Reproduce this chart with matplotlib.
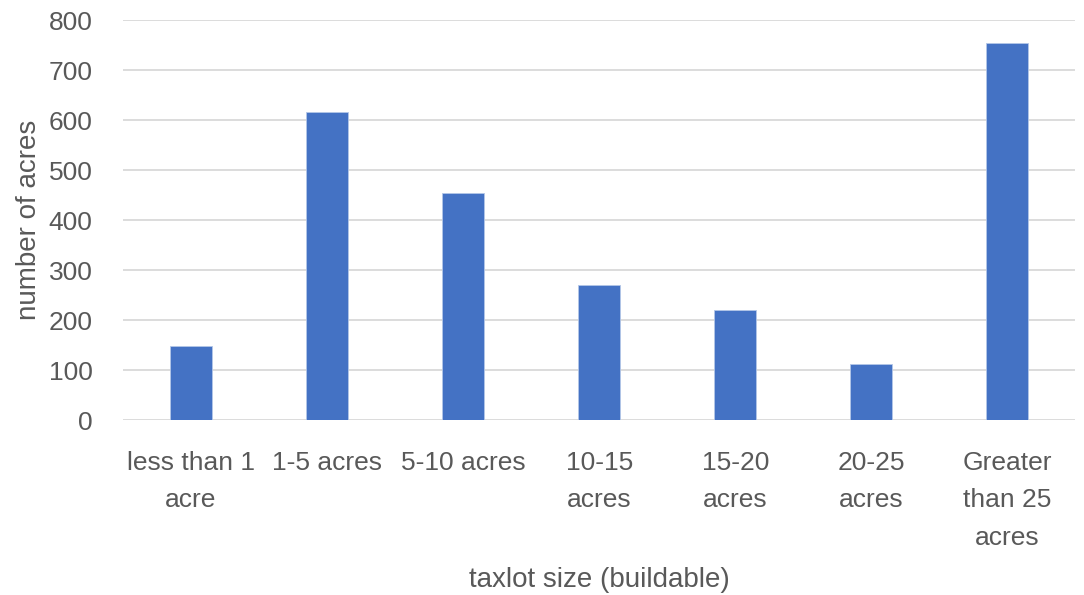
import matplotlib
matplotlib.use("Agg")
import matplotlib.pyplot as plt

categories = ["less than 1\nacre", "1-5 acres", "5-10 acres", "10-15\nacres",
              "15-20\nacres", "20-25\nacres", "Greater\nthan 25\nacres"]
acres = [148, 617, 454, 271, 220, 113, 755]
y_ticks = [0, 100, 200, 300, 400, 500, 600, 700, 800]

plt.rcParams["font.family"] = ["Liberation Sans", "DejaVu Sans"]
text_color = "#595959"

fig = plt.figure(figsize=(10.84, 5.95), dpi=100)
ax = fig.add_axes([0.1135, 0.294, 0.8785, 0.672])

x = range(len(categories))
ax.bar(x, acres, width=0.31, color="#4472C4", edgecolor="#b4c7e7", linewidth=0.6, zorder=3)

ax.set_xlim(-0.5, len(categories) - 0.5)
ax.set_ylim(0, 800)
ax.set_yticks(y_ticks)
ax.set_yticklabels([str(v) for v in y_ticks])
ax.set_xticks(list(x))
ax.set_xticklabels(categories, linespacing=1.72, va="top")

ax.grid(axis="y", color="#d9d9d9", linewidth=1.3, zorder=0)
for s in ax.spines.values():
    s.set_visible(False)
ax.tick_params(axis="both", length=0, labelsize=19, colors=text_color)
ax.tick_params(axis="x", pad=22)
ax.tick_params(axis="y", pad=22)

ax.set_ylabel("number of acres", fontsize=20, color=text_color, labelpad=5)
ax.set_xlabel("taxlot size (buildable)", fontsize=20, color=text_color, labelpad=12)

fig.savefig("out.png", dpi=100, facecolor="white")
